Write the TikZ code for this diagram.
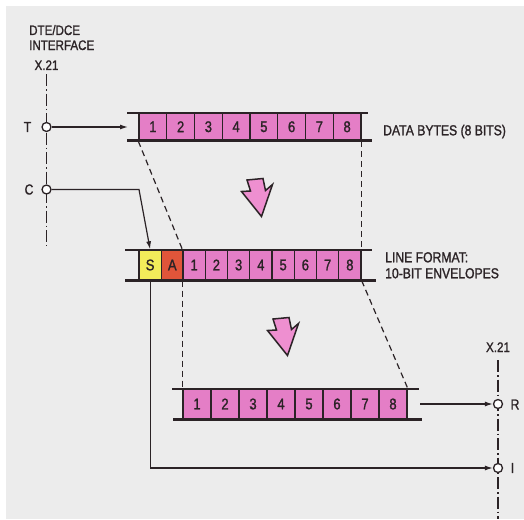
\documentclass[tikz,border=0pt]{standalone}
\usepackage{fontspec}
\setmainfont{Liberation Sans}[FakeStretch=0.84, FakeBold=1.3]
\usetikzlibrary{arrows.meta}
\definecolor{bg}{HTML}{ECECEC}
\definecolor{pinkbox}{HTML}{E47EC6}
\definecolor{sbox}{HTML}{F2EC5A}
\definecolor{abox}{HTML}{E0553A}
\definecolor{ink}{HTML}{2B2326}
\definecolor{arrowpink}{HTML}{EE8FD0}
\begin{document}
\begin{tikzpicture}[x=1pt,y=-1pt,
  cell/.style={draw=ink, line width=1.4pt, fill=pinkbox, inner sep=0pt, text=ink,
    font=\fontsize{15.5}{15.5}\selectfont},
  railthin/.style={draw=ink, line width=2pt},
  railthick/.style={draw=ink, line width=3.6pt},
  port/.style={circle, draw=ink, fill=white, line width=1.3pt, minimum size=9pt, inner sep=0pt},
  conn/.style={draw=ink, line width=1.2pt, -{Latex[length=8pt,width=5pt]}},
  dashline/.style={draw=ink, line width=1.2pt, dash pattern=on 6pt off 4pt},
  dashdot/.style={draw=ink, line width=1.3pt, dash pattern=on 12pt off 3pt on 1.5pt off 3pt},
  lbl/.style={text=ink, font=\fontsize{14.5}{15}\selectfont, inner sep=0pt},
  hdr/.style={text=ink, font=\fontsize{13.8}{15}\selectfont, inner sep=0pt},
  fatarrow/.pic={\draw[ink, line width=1.5pt, fill=arrowpink, line join=miter]
    (0,0) -- (16,-1.5) -- (18.5,10.5) -- (25.5,4.5) -- (14.5,36.5) -- (-5.5,11.5) -- (3.5,11) -- cycle;}
]
\useasboundingbox (0,0) rectangle (524,519);
\fill[white] (0,0) rectangle (524,519);
\fill[bg] (6,6) rectangle (524,519);

% header
\node[hdr, anchor=base west] (h1) at (29,35) {DTE/DCE};
\node[hdr, anchor=base west] (h2) at (29,50) {INTERFACE};
\node[hdr, anchor=base] (h3) at (46.5,70) {X.21};
\node[hdr, anchor=base] (h4) at (498,352) {X.21};

% interface lines
\draw[dashdot] (46.5,74) -- (46.5,246);
\draw[dashdot] (498,360) -- (498,519);

% top row
\foreach \i in {1,...,8}
  \node[cell, minimum width=27.75pt, minimum height=27.5pt] (t\i) at ({139+27.75*(\i-0.5)},126.75) {\i};
\draw[railthin] (127,113) -- (368,113);
\draw[railthick] (127,140.5) -- (372,140.5);

% middle row
\node[cell, fill=sbox, minimum width=22.2pt, minimum height=30pt] (mS) at (150.1,265) {S};
\node[cell, fill=abox, minimum width=22.2pt, minimum height=30pt] (mA) at (172.3,265) {A};
\foreach \i in {1,...,8}
  \node[cell, minimum width=22.25pt, minimum height=30pt] (m\i) at ({183+22.25*(\i-0.5)},265) {\i};
\draw[railthin] (125,250) -- (372,250);
\draw[railthick] (125,280.5) -- (376,280.5);

% bottom row
\foreach \i in {1,...,8}
  \node[cell, minimum width=28pt, minimum height=30pt] (b\i) at ({183+28*(\i-0.5)},404) {\i};
\draw[railthin] (172,389) -- (419,389);
\draw[railthick] (173,419.5) -- (422,419.5);

% dashed projections
\draw[dashline] (t1.south west) -- (m1.north west);
\draw[dashline] (t8.south east) -- (m8.north east);
\draw[dashline] (m1.south west) -- (b1.north west);
\draw[dashline] (m8.south east) -- (b8.north east);

% pink arrows
\pic at (247,180) {fatarrow};
\pic at (273,319) {fatarrow};

% ports
\node[port] (T) at (46.5,127) {};
\node[port] (C) at (46.5,189.5) {};
\node[port] (R) at (498,404) {};
\node[port] (I) at (498,468) {};
\node[lbl] (Tl) at (27.5,127) {T};
\node[lbl] (Cl) at (29,189.5) {C};
\node[lbl] (Rl) at (515,404.5) {R};
\node[lbl] (Il) at (512.5,468) {I};

% connectors
\coordinate (tend) at (128,127);
\draw[conn] (T.east) -- (tend);
\coordinate (cbend) at (139,189.5);
\draw[conn] (C.east) -- (cbend) -- (mS.north);
\draw[conn] (mS.south) |- (I.west);
\coordinate (rstart) at (420,404);
\draw[conn] (rstart) -- (R.west);

% labels
\node[lbl, anchor=base west] (d1) at (383,135.3) {DATA BYTES (8 BITS)};
\node[lbl, anchor=base west] (l1) at (385,262.3) {LINE FORMAT:};
\node[lbl, anchor=base west] (l2) at (385,278.3) {10-BIT ENVELOPES};
\end{tikzpicture}
\end{document}
